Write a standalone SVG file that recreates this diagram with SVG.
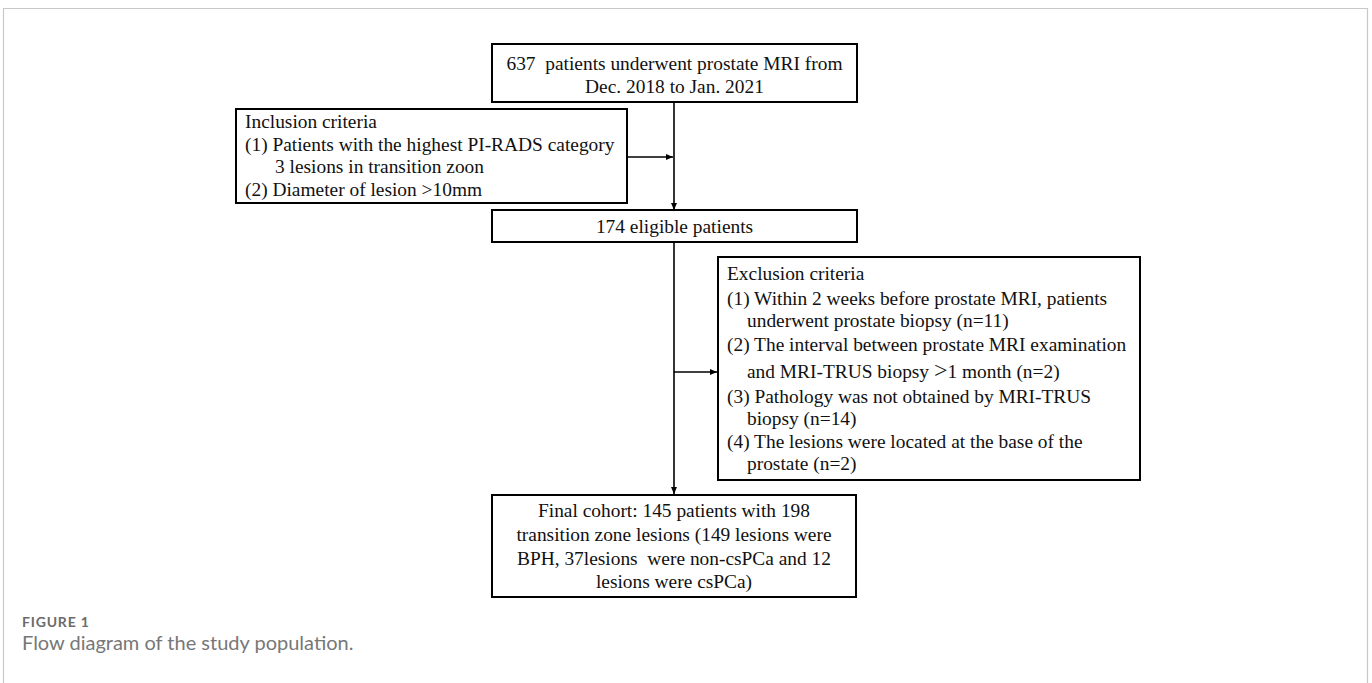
<svg xmlns="http://www.w3.org/2000/svg" width="1372" height="683" viewBox="0 0 1372 683">
<style>
.box{fill:#fff;stroke:#000;stroke-width:2}
.t{font-family:"Liberation Serif","Times New Roman",serif;font-size:19.4px;fill:#111;white-space:pre}
.c{text-anchor:middle}
.ln{stroke:#000;stroke-width:1.6;fill:none}
.frame{fill:none;stroke:#c8c8c8;stroke-width:1.2}
</style>
<defs>
<marker id="ah" markerWidth="8" markerHeight="8" refX="7" refY="4" orient="auto" markerUnits="userSpaceOnUse">
<path d="M0,1 L7,4 L0,7 Z" fill="#000"/>
</marker>
</defs>
<rect x="0" y="0" width="1372" height="683" fill="#fff"/>
<path class="frame" d="M3.5,700 V8.5 H1367.5 V700"/>
<g id="connectors">
<line class="ln" x1="674" y1="102" x2="674" y2="210" marker-end="url(#ah)"/>
<line class="ln" x1="627" y1="157" x2="673" y2="157" marker-end="url(#ah)"/>
<line class="ln" x1="674" y1="242" x2="674" y2="494" marker-end="url(#ah)"/>
<line class="ln" x1="674" y1="372" x2="717" y2="372" marker-end="url(#ah)"/>
</g>
<g id="n-start">
<rect class="box" x="492" y="44" width="365" height="58"/>
<text class="t c" x="674.5" y="70">637  patients underwent prostate MRI from</text>
<text class="t c" x="674.5" y="93">Dec. 2018 to Jan. 2021</text>
</g>
<g id="n-inclusion">
<rect class="box" x="236" y="109" width="391" height="94"/>
<text class="t" x="245" y="128">Inclusion criteria</text>
<text class="t" x="245" y="151">(1) Patients with the highest PI-RADS category</text>
<text class="t" x="275" y="173">3 lesions in transition zoon</text>
<text class="t" x="245" y="196">(2) Diameter of lesion &gt;10mm</text>
</g>
<g id="n-eligible">
<rect class="box" x="492" y="210" width="365" height="32"/>
<text class="t c" x="674.5" y="233">174 eligible patients</text>
</g>
<g id="n-exclusion">
<rect class="box" x="718" y="257" width="422" height="223"/>
<text class="t" x="727" y="280">Exclusion criteria</text>
<text class="t" x="727" y="305">(1) Within 2 weeks before prostate MRI, patients</text>
<text class="t" x="747" y="327">underwent prostate biopsy (n=11)</text>
<text class="t" x="727" y="351">(2) The interval between prostate MRI examination</text>
<text class="t" x="747" y="378">and MRI-TRUS biopsy <tspan font-size="24px">&gt;</tspan>1 month (n=2)</text>
<text class="t" x="727" y="403">(3) Pathology was not obtained by MRI-TRUS</text>
<text class="t" x="747" y="425">biopsy (n=14)</text>
<text class="t" x="727" y="448">(4) The lesions were located at the base of the</text>
<text class="t" x="747" y="470">prostate (n=2)</text>
</g>
<g id="n-final">
<rect class="box" x="492" y="495" width="364" height="102"/>
<text class="t c" x="674" y="517">Final cohort: 145 patients with 198</text>
<text class="t c" x="674" y="541">transition zone lesions (149 lesions were</text>
<text class="t c" x="674" y="565">BPH, 37lesions  were non-csPCa and 12</text>
<text class="t c" x="674" y="588">lesions were csPCa)</text>
</g>
<g id="caption">
<text x="22" y="627" font-family="Lato,'Open Sans',sans-serif" font-size="14px" font-weight="700" fill="#6b6b6b" letter-spacing="0.8">FIGURE 1</text>
<text x="22" y="650" font-family="Lato,'Open Sans',sans-serif" font-size="20px" fill="#777">Flow diagram of the study population.</text>
</g>
</svg>
